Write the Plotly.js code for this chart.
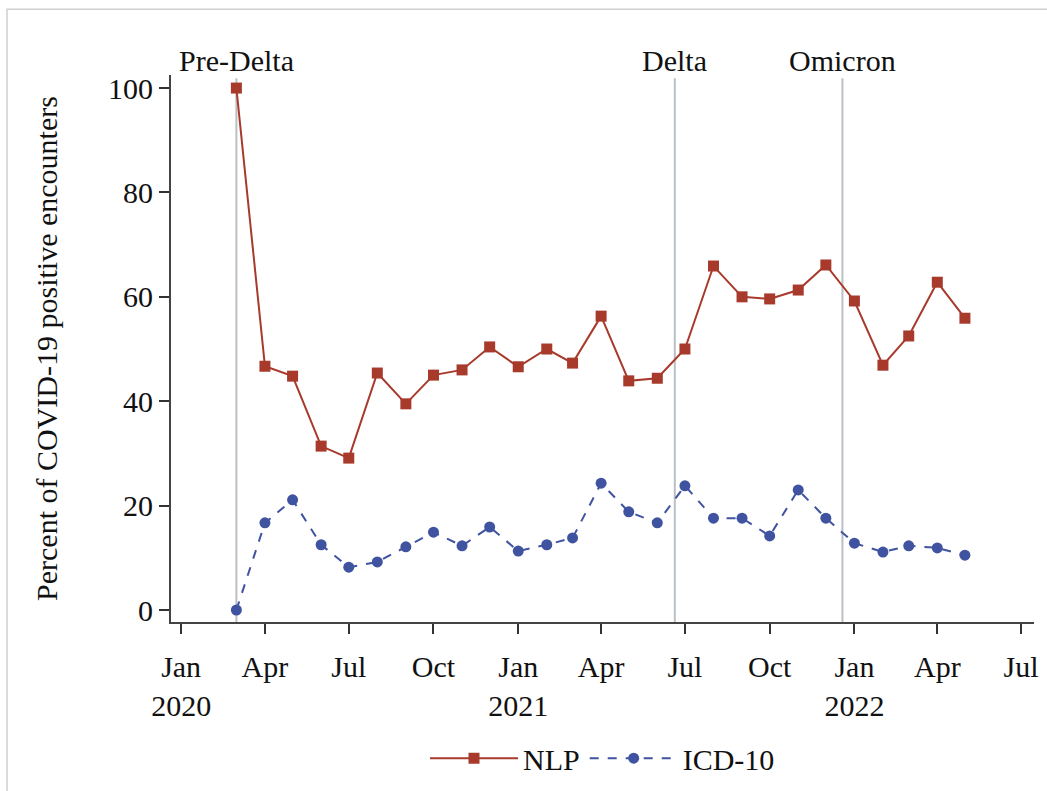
<!DOCTYPE html>
<html>
<head>
<meta charset="utf-8">
<script src="https://cdn.plot.ly/plotly-3.0.1.min.js"></script>
<style>html,body{margin:0;padding:0;background:#fff;}#chart{width:1047px;height:791px;}</style>
</head>
<body>
<div id="chart"></div>
<script>
const months = ["2020-03-01","2020-04-01","2020-05-01","2020-06-01","2020-07-01","2020-08-01","2020-09-01","2020-10-01","2020-11-01","2020-12-01",
  "2021-01-01","2021-02-01","2021-03-01","2021-04-01","2021-05-01","2021-06-01","2021-07-01","2021-08-01","2021-09-01","2021-10-01","2021-11-01","2021-12-01",
  "2022-01-01","2022-02-01","2022-03-01","2022-04-01","2022-05-01"];
const nlp = [100,46.7,44.8,31.4,29.1,45.4,39.5,45.0,46.0,50.4,46.6,50.0,47.3,56.3,43.9,44.4,50.0,65.9,60.0,59.6,61.3,66.1,59.2,46.9,52.5,62.8,55.9];
const icd10 = [0,16.7,21.1,12.5,8.2,9.2,12.1,14.9,12.3,15.9,11.3,12.5,13.8,24.3,18.8,16.7,23.8,17.6,17.6,14.2,23.0,17.6,12.8,11.1,12.3,11.9,10.5];
const periodNames = ["Pre-Delta","Delta","Omicron"];
const periodStarts = ["2020-03-01","2021-06-20","2021-12-19"];
const tickVals = ["2020-01-01","2020-04-01","2020-07-01","2020-10-01","2021-01-01","2021-04-01","2021-07-01","2021-10-01","2022-01-01","2022-04-01","2022-07-01"];
const tickText = ["Jan<br>2020","Apr","Jul","Oct","Jan<br>2021","Apr","Jul","Oct","Jan<br>2022","Apr","Jul"];

const font = {family: "Liberation Serif, Times New Roman, serif", size: 30, color: "#111"};
const red = "#a83a2c", blue = "#3f53a0";

const traces = [
  {x: months, y: nlp, name: "NLP", type: "scatter", mode: "lines+markers",
   line: {color: red, width: 2}, marker: {symbol: "square", size: 11, color: red}},
  {x: months, y: icd10, name: "ICD-10", type: "scatter", mode: "lines+markers",
   line: {color: blue, width: 2, dash: "dash"}, marker: {symbol: "circle", size: 11, color: blue}}
];

const shapes = periodStarts.map(d => ({type: "line", xref: "x", yref: "paper", x0: d, x1: d, y0: 0, y1: 0.994,
  line: {color: "#b9bfc5", width: 2}, layer: "below"}));
shapes.push({type: "rect", xref: "paper", yref: "paper", x0: -0.19, x1: 1.03, y0: -0.35, y1: 1.12,
  line: {color: "#d0d0d0", width: 1.5}, layer: "below"});

const annotations = periodNames.map((n, i) => ({x: periodStarts[i], xref: "x", y: 1.027, yref: "paper",
  text: n, showarrow: false, xanchor: "center", yanchor: "middle", font: font}));

const layout = {
  width: 1047, height: 791,
  margin: {l: 171, r: 13, t: 75, b: 169, autoexpand: false},
  paper_bgcolor: "#fff", plot_bgcolor: "#fff",
  font: font,
  showlegend: true,
  legend: {orientation: "h", x: 0.5, xanchor: "center", y: -0.249, yanchor: "middle",
    font: font, itemwidth: 88, tracegroupgap: 0},
  xaxis: {type: "date", range: ["2019-12-21", "2022-07-15"], tickmode: "array", tickvals: tickVals, ticktext: tickText,
    showgrid: false, zeroline: false, showline: true, linecolor: "#444", linewidth: 2,
    ticks: "outside", ticklen: 10, tickwidth: 2, tickcolor: "#333", ticklabelstandoff: 7, tickfont: font},
  yaxis: {range: [-2.3, 102.5], tickvals: [0,20,40,60,80,100],
    showgrid: false, zeroline: false, showline: true, linecolor: "#444", linewidth: 2,
    ticks: "outside", ticklen: 10, tickwidth: 2, tickcolor: "#333", tickfont: font,
    title: {text: "Percent of COVID-19 positive encounters", font: font, standoff: 42}},
  shapes: shapes,
  annotations: annotations
};
Plotly.newPlot("chart", traces, layout, {displayModeBar: false, staticPlot: true});
</script>
</body>
</html>
